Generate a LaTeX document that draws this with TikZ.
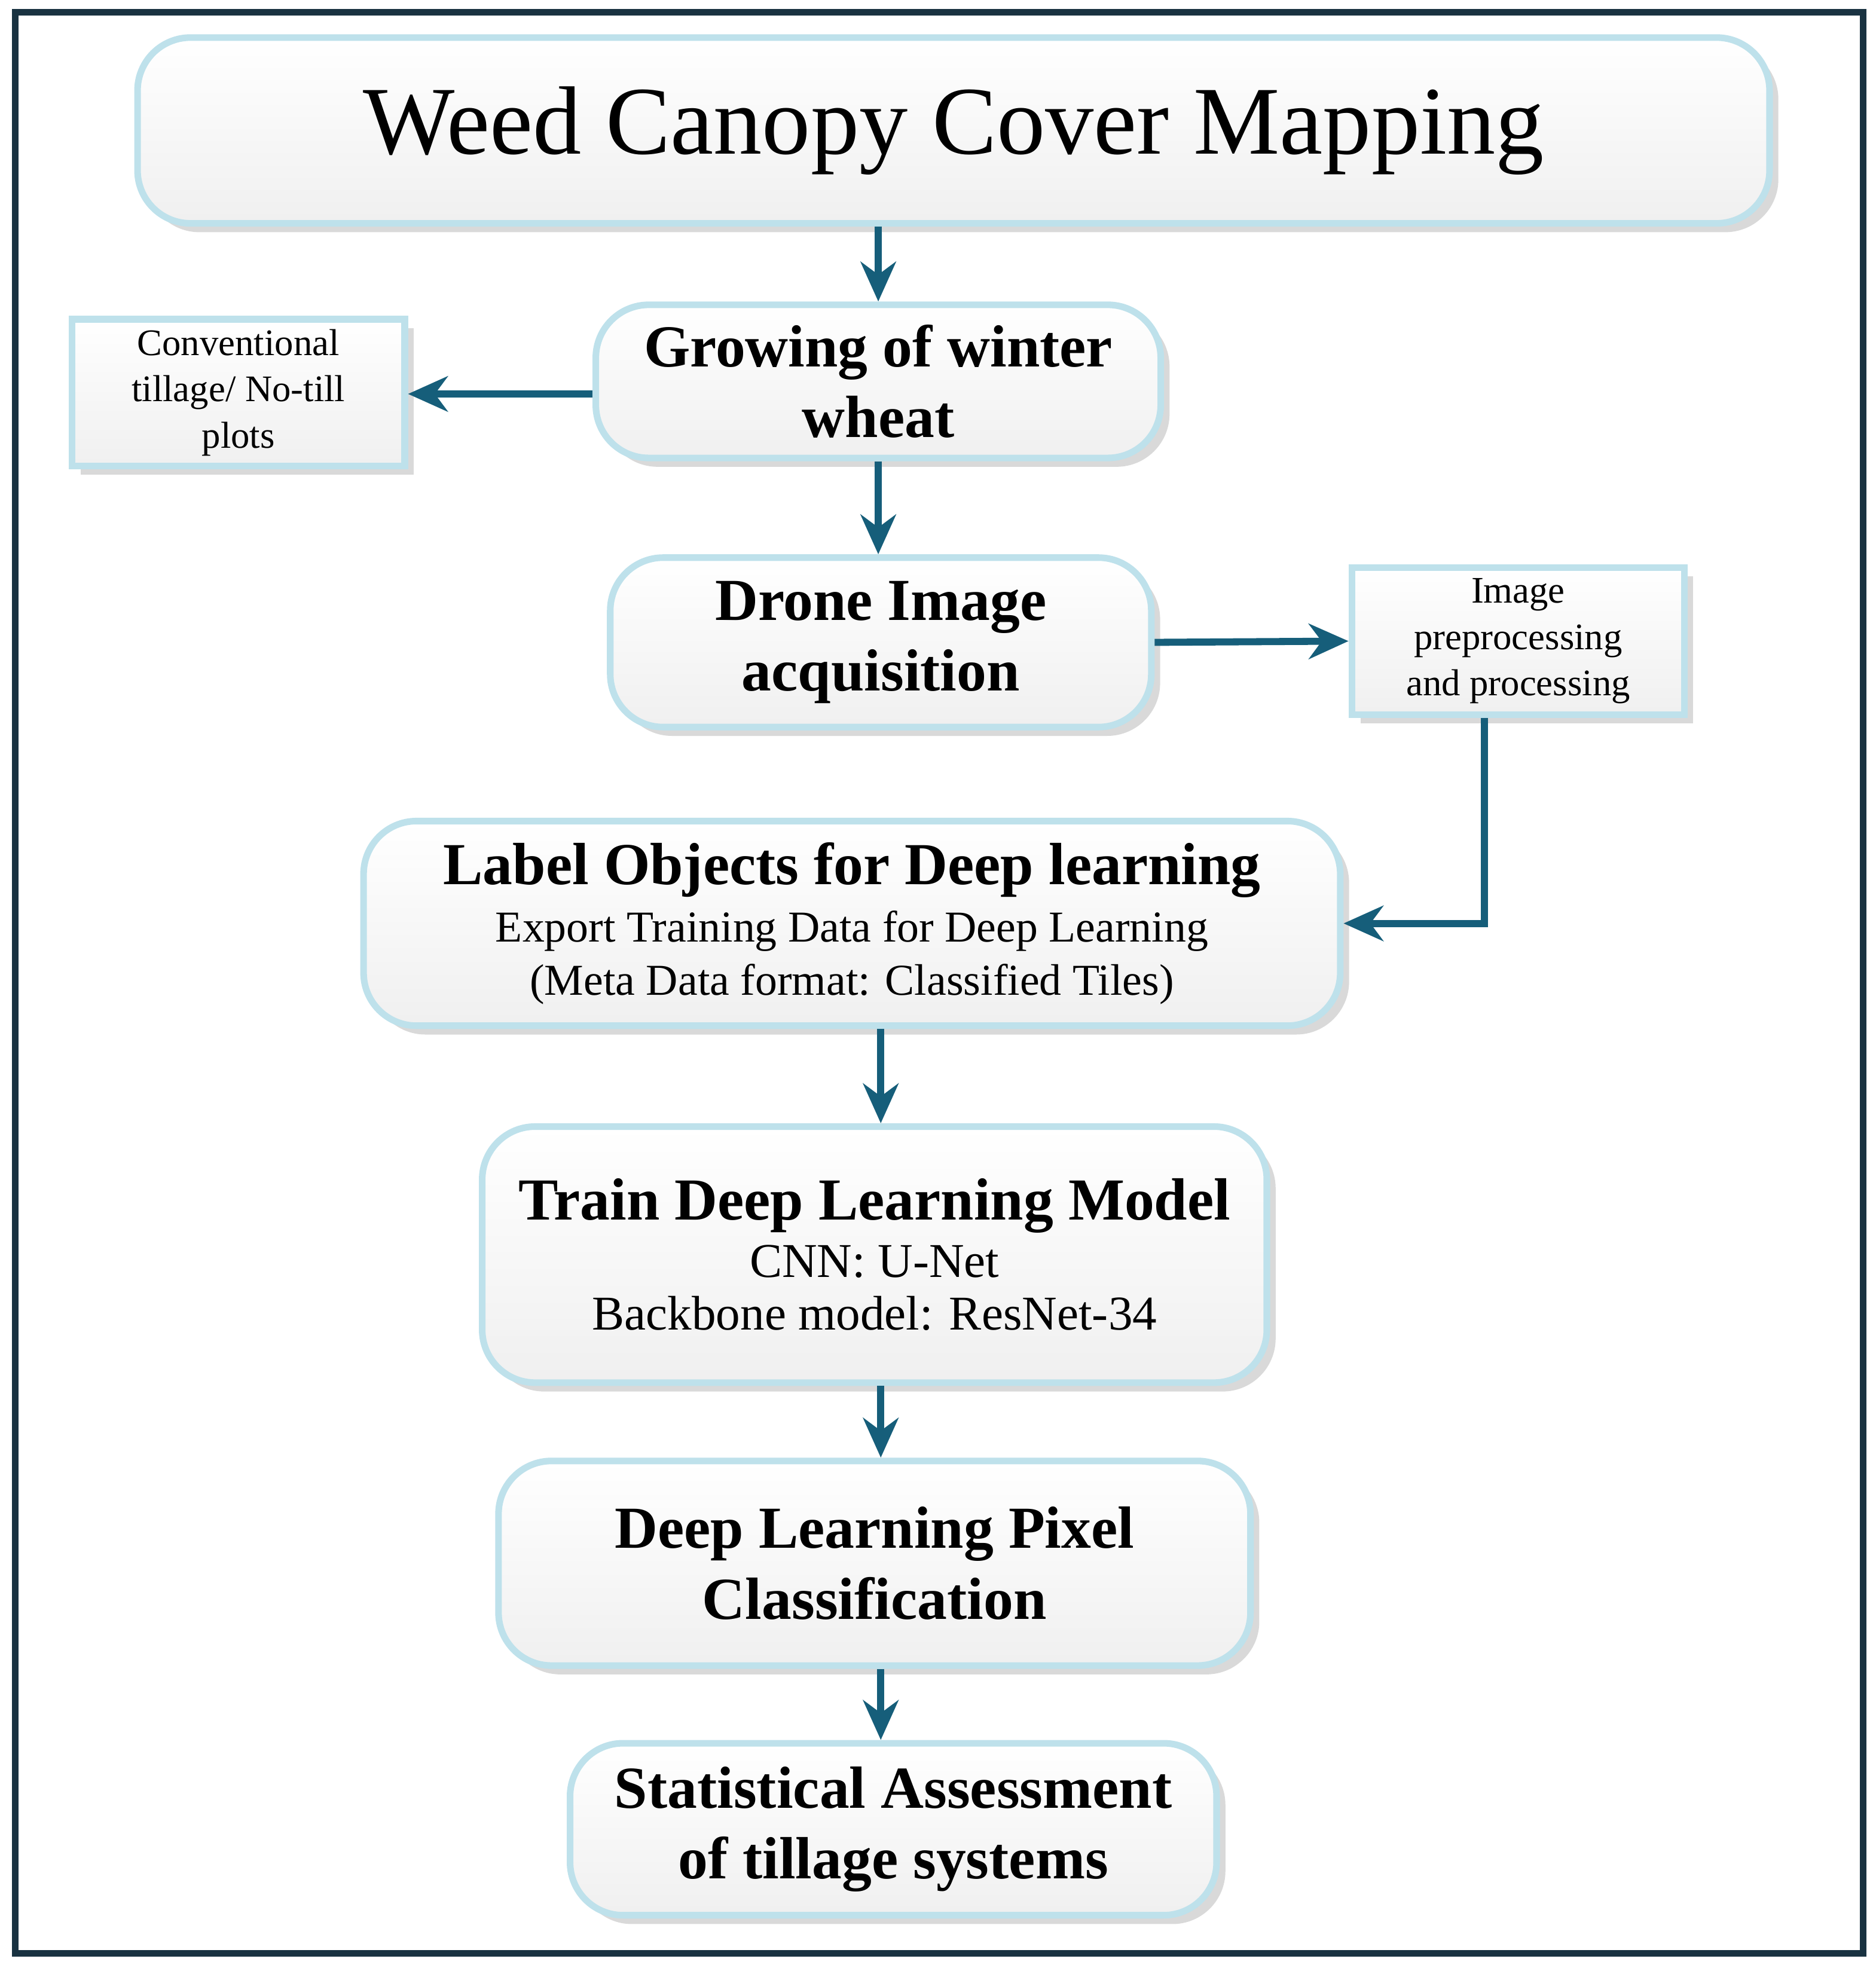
\documentclass[tikz,border=0pt]{standalone}
\usepackage{fontspec}
\setmainfont{Liberation Serif}
\usetikzlibrary{arrows.meta,positioning,shadows}
\definecolor{arrowteal}{RGB}{22,94,122}
\definecolor{boxedge}{RGB}{190,225,235}
\definecolor{framecol}{RGB}{25,50,65}

\begin{document}
\begin{tikzpicture}[x=0.01cm,y=-0.01cm,
      mybox/.style={
         draw=boxedge,
         line width=1.5pt,
         rounded corners=12pt,
         top color=white,
         bottom color=gray!12,
         drop shadow={shadow xshift=2pt,shadow yshift=-2pt,opacity=0.3},
         align=center,
         inner sep=2pt},
      smallbox/.style={
         mybox,
         rounded corners=0pt,
         font=\fontsize{8.5}{10.5}\selectfont},
      myarrow/.style={-{Stealth[length=9pt,width=8pt]},draw=arrowteal,line width=1.6pt}
      ]
      \draw[framecol,line width=1.5pt] (12,10) rectangle (1485,1557);
      \useasboundingbox (0,0) rectangle (1495,1571);

      \node[mybox, minimum width=13cm, minimum height=1.48cm,
            font=\fontsize{22}{26}\selectfont] (title) at (760,104) {Weed Canopy Cover Mapping};
      \node[mybox, minimum width=4.5cm, minimum height=1.22cm,
            font=\fontsize{13.5}{16}\selectfont\bfseries] (grow) at (700,304) {Growing of winter\\wheat};
      \node[smallbox, minimum width=2.65cm, minimum height=1.17cm] (till) at (190,313)
            {Conventional\\tillage/ No-till\\plots};
      \node[mybox, minimum width=4.31cm, minimum height=1.35cm,
            font=\fontsize{13.5}{16}\selectfont\bfseries] (drone) at (702,512) {Drone Image\\acquisition};
      \node[smallbox, minimum width=2.65cm, minimum height=1.17cm] (prep) at (1210,511)
            {Image\\preprocessing\\and processing};
      \node[mybox, minimum width=7.78cm, minimum height=1.63cm] (label) at (679,736)
            {{\fontsize{13.5}{16}\selectfont\bfseries Label Objects for Deep learning}\\[1pt]
             {\fontsize{10}{12}\selectfont Export Training Data for Deep Learning}\\
             {\fontsize{10}{12}\selectfont (Meta Data format: Classified Tiles)}};
      \node[mybox, minimum width=6.25cm, minimum height=2.04cm] (train) at (697,1000)
            {{\fontsize{13.5}{16}\selectfont\bfseries Train Deep Learning Model}\\[1pt]
             {\fontsize{11}{13}\selectfont CNN: U-Net}\\
             {\fontsize{11}{13}\selectfont Backbone model: ResNet-34}};
      \node[mybox, minimum width=5.99cm, minimum height=1.63cm,
            font=\fontsize{13.5}{16}\selectfont\bfseries] (pixel) at (697,1246) {Deep Learning Pixel\\Classification};
      \node[mybox, minimum width=5.15cm, minimum height=1.37cm,
            font=\fontsize{13.5}{16}\selectfont\bfseries] (stat) at (712,1458) {Statistical Assessment\\of tillage systems};

      \draw[myarrow] (title.south -| grow) -- (grow.north);
      \draw[myarrow] ([yshift=-0.1cm]grow.west) -- ([yshift=-0.1cm]grow.west -| till.east);
      \draw[myarrow] (grow.south) -- (drone.north -| grow);
      \draw[myarrow] (drone.east) -- (prep.west);
      \draw[myarrow] ([xshift=-0.27cm]prep.south) |- (label.east);
      \draw[myarrow] (label.south -| drone) -- (train.north -| drone);
      \draw[myarrow] (train.south -| drone) -- (pixel.north -| drone);
      \draw[myarrow] ([xshift=0.05cm]pixel.south) -- ([xshift=0.05cm]stat.north -| pixel);
\end{tikzpicture}
\end{document}
